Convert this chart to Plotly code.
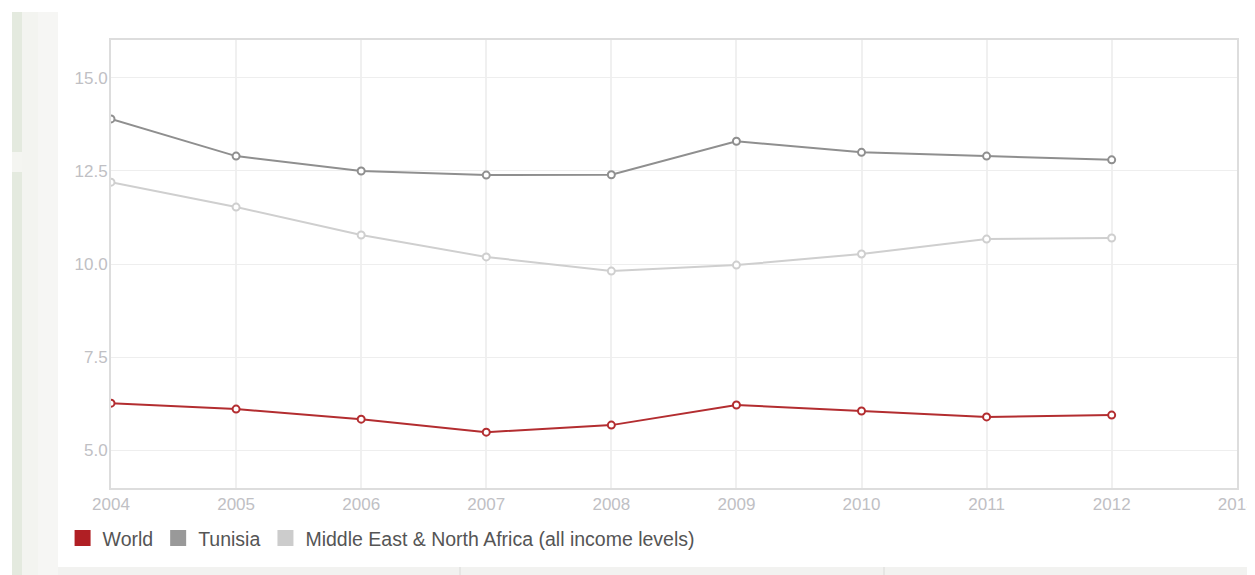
import plotly.graph_objects as go

years = [2004, 2005, 2006, 2007, 2008, 2009, 2010, 2011, 2012]
world = [6.26, 6.10, 5.83, 5.48, 5.67, 6.21, 6.05, 5.89, 5.94]
tunisia = [13.9, 12.9, 12.5, 12.39, 12.4, 13.3, 13.0, 12.9, 12.8]
mena = [12.2, 11.53, 10.78, 10.19, 9.81, 9.97, 10.27, 10.67, 10.70]

series_names = ["World", "Tunisia", "Middle East & North Africa (all income levels)"]
series_vals = [world, tunisia, mena]
line_colors = ["#b32d30", "#8f8f8f", "#cfcfcf"]
legend_colors = ["#b01f24", "#999999", "#cccccc"]

x_ticks = [2004, 2005, 2006, 2007, 2008, 2009, 2010, 2011, 2012, 2013]
y_ticks = [5.0, 7.5, 10.0, 12.5, 15.0]

OFF = 8  # default body margin of the page
W, H = 1255 - OFF, 575 - OFF
L, R, T, B = 111 - OFF, 18, 40 - OFF, 87
pw, ph = W - L - R, H - T - B

def px(xp):
    return (xp - OFF - L) / pw

def py(yp):
    return (H - B - (yp - OFF)) / ph

fig = go.Figure()

for name, vals, lc in zip(series_names, series_vals, line_colors):
    fig.add_trace(go.Scatter(
        x=years, y=vals, mode="lines+markers", name=name, showlegend=False,
        line=dict(color=lc, width=2),
        marker=dict(symbol="circle", size=7, color="white", line=dict(color=lc, width=2)),
    ))

for name, lc in zip(series_names, legend_colors):
    fig.add_trace(go.Scatter(
        x=[None], y=[None], mode="markers", name=name,
        marker=dict(symbol="square", size=18, color=lc),
    ))

shapes = []
def rect(x0, y0, x1, y1, color):
    shapes.append(dict(type="rect", xref="paper", yref="paper", layer="below",
                       x0=px(x0), x1=px(x1), y0=py(y1), y1=py(y0),
                       fillcolor=color, line=dict(width=0)))

rect(12, 12, 22, 580, "#e4eadf")
rect(12, 152, 22, 172, "#f4f5f1")
rect(22, 12, 38, 580, "#f3f4f0")
rect(38, 12, 58, 580, "#f6f6f4")
rect(58, 567, 1260, 580, "#f2f2f0")
rect(459, 567, 461, 580, "#e6e6e4")
rect(883, 567, 885, 580, "#e6e6e4")

fig.update_layout(
    width=W, height=H,
    margin=dict(l=L, r=R, t=T, b=B),
    paper_bgcolor="white", plot_bgcolor="white",
    font=dict(family="Liberation Sans, Arial, sans-serif", color="#555555"),
    shapes=shapes,
    showlegend=True,
    legend=dict(orientation="h", x=-0.043, y=-0.069, xanchor="left", yanchor="top",
                font=dict(size=19.5, color="#555555"), itemwidth=30,
                bgcolor="rgba(0,0,0,0)", tracegroupgap=0),
    xaxis=dict(range=[2004, 2013.002], tickvals=x_ticks, ticktext=[str(v) for v in x_ticks],
               showgrid=True, gridcolor="#f0f0f0", gridwidth=2,
               showline=True, linecolor="#dddddd", linewidth=2, mirror=True,
               zeroline=False, ticks="", tickfont=dict(size=17, color="#c0c0c4"),
               ticklabeloverflow="allow", automargin=False),
    yaxis=dict(range=[3.98, 16.02], tickvals=y_ticks, ticktext=["%.1f" % v for v in y_ticks],
               showgrid=True, gridcolor="#eeeeee", gridwidth=1,
               showline=True, linecolor="#dddddd", linewidth=2, mirror=True,
               zeroline=False, ticks="", tickfont=dict(size=17, color="#c0c0c4"),
               ticklabelstandoff=-2),
)

fig.write_html("out.html")
